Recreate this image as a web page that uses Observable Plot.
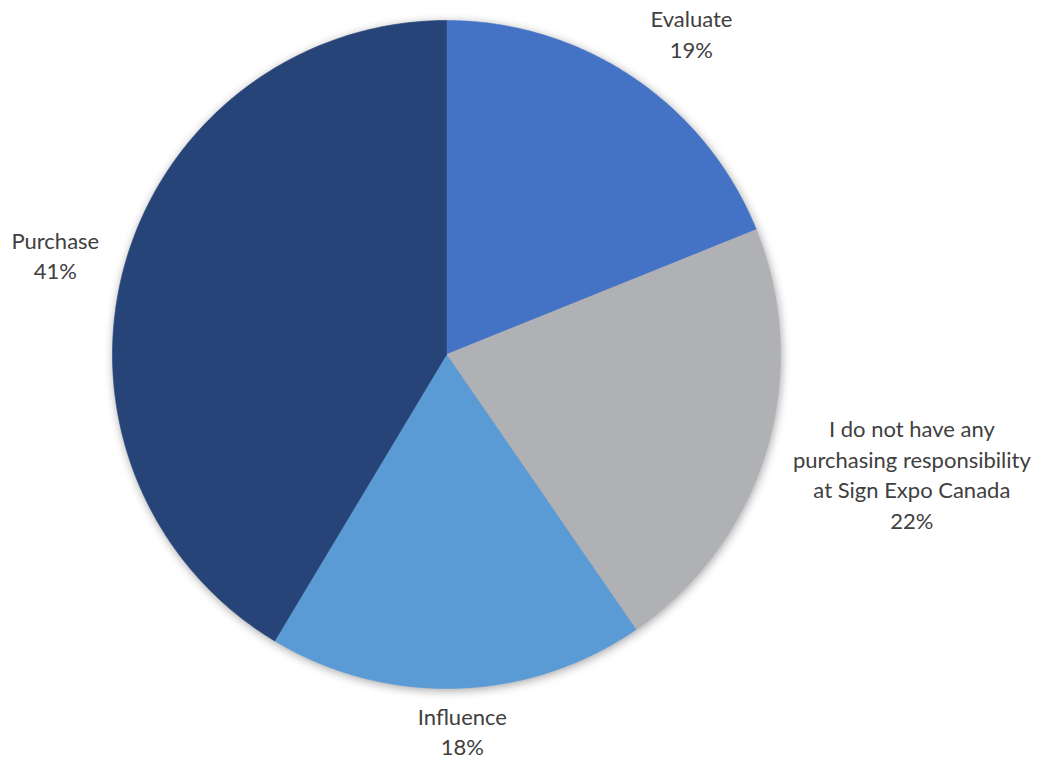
<!DOCTYPE html>
<html>
<head>
<meta charset="utf-8">
<script src="https://cdn.jsdelivr.net/npm/d3@7"></script>
<script src="https://cdn.jsdelivr.net/npm/@observablehq/plot@0.6"></script>
<style>
  html, body { margin: 0; padding: 0; background: #fff; }
  #chart svg { display: block; }
  #chart g[aria-label="line"] { filter: drop-shadow(1px 2px 5px rgba(0,0,0,0.35)); }
</style>
</head>
<body>
<div id="chart"></div>
<script>
// ---- data ----
const categories = [
  "Evaluate",
  "I do not have any\npurchasing responsibility\nat Sign Expo Canada",
  "Influence",
  "Purchase"
];
const values = [18.9, 21.5, 18.2, 41.4]; // shares
const colors = ["#4472C4", "#B0B1B5", "#5B9BD5", "#264478"];

// ---- label placement (style) ----
const labelAngleShift = [3.5, -2.1, -0.6, -1.5]; // degrees
const labelRadius = [1.204, 1.44, 1.135, 1.207]; // in radii

const W = 1045, H = 762, CX = 446, CY = 354, R = 334;

const arcs = d3.pie().sort(null).value(d => d)(values);

const pts = [];
arcs.forEach((a, i) => {
  const cat = categories[i];
  pts.push({cat, x: 0, y: 0});
  const N = 200;
  for (let k = 0; k <= N; k++) {
    const t = a.startAngle + (a.endAngle - a.startAngle) * k / N;
    pts.push({cat, x: Math.sin(t), y: Math.cos(t)});
  }
  pts.push({cat, x: 0, y: 0});
});

const labels = arcs.map((a, i) => {
  const m = (a.startAngle + a.endAngle) / 2 + labelAngleShift[i] * Math.PI / 180;
  const r = labelRadius[i];
  return {x: r * Math.sin(m), y: r * Math.cos(m), text: categories[i] + "\n" + Math.round(values[i]) + "%"};
});

const chart = Plot.plot({
  width: W,
  height: H,
  margin: 0,
  x: {domain: [-CX / R, (W - CX) / R], axis: null},
  y: {domain: [-(H - CY) / R, CY / R], axis: null},
  color: {domain: categories, range: colors},
  style: {fontFamily: "Lato, 'Open Sans', sans-serif", background: "#fff"},
  marks: [
    Plot.line(pts, {x: "x", y: "y", z: "cat", fill: "cat", stroke: "cat", strokeWidth: 0.6}),
    Plot.text(labels, {
      x: "x", y: "y", text: "text", dy: -3,
      fontSize: 22, lineHeight: 1.39, fill: "#404040",
      textAnchor: "middle", lineAnchor: "middle"
    })
  ]
});
document.getElementById("chart").appendChild(chart);
</script>
</body>
</html>
